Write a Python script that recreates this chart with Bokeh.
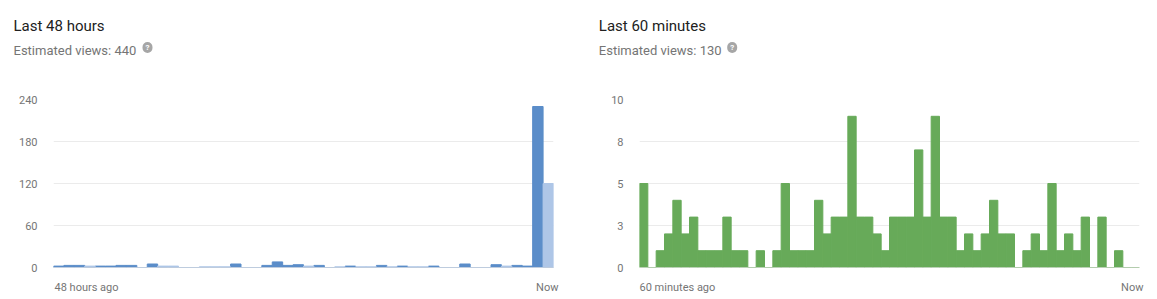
from bokeh.plotting import figure
from bokeh.layouts import row, column
from bokeh.models import Range1d, FixedTicker, Label, Span, ColumnDataSource
from bokeh.embed import file_html
from bokeh.resources import INLINE

# ---------------- data ----------------
hour_labels = ["48 hours ago", "Now"]
# views per hour over last 48 hours (oldest -> newest); two bar shades
hourly_views_dark = [2, 3, 3, 0, 2, 2, 3, 3, 0, 5, 0, 0, 0, 0, 0, 0, 0, 5, 0, 0, 3, 8, 3, 4,
                     0, 3, 0, 0, 2, 0, 0, 3, 0, 2, 0, 0, 2, 0, 0, 5, 0, 0, 4, 0, 3, 2, 230, 0]
hourly_views_light = [0, 0, 0, 2, 0, 0, 0, 0, 0, 0, 2, 2, 0, 0, 1, 1, 1, 0, 0, 0, 0, 0, 0, 0,
                      2, 0, 0, 1, 0, 1, 1, 0, 1, 0, 1, 1, 0, 0, 0, 0, 0, 0, 0, 2, 0, 0, 0, 120]
hour_ticks = [0, 60, 120, 180, 240]

minute_labels = ["60 minutes ago", "Now"]
minute_views = [5, 0, 1, 2, 4, 2, 3, 1, 1, 1, 3, 1, 1, 0, 1, 0, 1, 5, 1, 1,
                1, 4, 2, 3, 3, 9, 3, 3, 2, 1, 3, 3, 3, 7, 3, 9, 3, 3, 1, 2,
                1, 2, 4, 2, 2, 0, 1, 2, 1, 5, 1, 2, 1, 3, 0, 3, 0, 1, 0, 0]
minute_ticks = [0, 2.5, 5, 7.5, 10]
minute_tick_labels = ["0", "3", "5", "8", "10"]

titles = ["Last 48 hours", "Last 60 minutes"]
subtitles = ["Estimated views: 440", "Estimated views: 130"]

FONT = "Roboto"
GRAY = "#757575"
HEADER_H = 91
FOOTER_H = 24


def strip(width, height):
    s = figure(width=width, height=height, output_backend="svg", toolbar_location=None,
               x_range=Range1d(0, width), y_range=Range1d(0, height),
               x_axis_type=None, y_axis_type=None, tools="", frame_align=False,
               min_border_left=0, min_border_right=0, min_border_top=0, min_border_bottom=0)
    s.outline_line_color = None
    s.grid.visible = False
    return s


def header(width, title, subtitle, x0, icon_x):
    h = strip(width, HEADER_H)
    h.add_layout(Label(x=x0, y=HEADER_H - 25.5, text=title,
                       text_font=FONT, text_font_size="15px", text_color="#212121",
                       text_baseline="alphabetic", text_align="left"))
    h.add_layout(Label(x=x0, y=HEADER_H - 50, text=subtitle,
                       text_font=FONT, text_font_size="13px", text_color=GRAY,
                       text_baseline="alphabetic", text_align="left"))
    h.add_layout(Label(x=icon_x, y=HEADER_H - 47, text="?",
                       text_font=FONT, text_font_size="8px", text_font_style="bold",
                       text_color="white", text_baseline="middle", text_align="center",
                       background_fill_color="#a6a6a6", border_radius=6, padding=(3, 1)))
    return h


def footer(width, labels, left_x, right_x):
    f = strip(width, FOOTER_H)
    f.add_layout(Label(x=left_x, y=FOOTER_H - 12, text=labels[0],
                       text_font=FONT, text_font_size="11px", text_color=GRAY,
                       text_baseline="alphabetic", text_align="left"))
    f.add_layout(Label(x=right_x, y=FOOTER_H - 12, text=labels[1],
                       text_font=FONT, text_font_size="11px", text_color=GRAY,
                       text_baseline="alphabetic", text_align="right"))
    return f


def chart(width, left, right, n, ticks, tick_labels):
    p = figure(width=width, height=184, output_backend="svg", toolbar_location=None,
               x_range=Range1d(0, n), y_range=Range1d(0, ticks[-1]), x_axis_type=None,
               min_border_left=left, min_border_right=right, min_border_top=8,
               min_border_bottom=8, tools="", frame_align=False)
    p.outline_line_color = None
    p.xgrid.visible = False
    p.yaxis.ticker = FixedTicker(ticks=ticks)
    p.yaxis.major_label_overrides = {t: l for t, l in zip(ticks, tick_labels)}
    p.yaxis.axis_line_color = None
    p.yaxis.major_tick_line_color = None
    p.yaxis.minor_tick_line_color = None
    p.yaxis.major_label_standoff = 10
    p.yaxis.major_label_text_font = FONT
    p.yaxis.major_label_text_font_size = "11px"
    p.yaxis.major_label_text_color = GRAY
    p.ygrid.ticker = FixedTicker(ticks=ticks)
    p.ygrid.grid_line_color = "#ebebeb"
    p.ygrid.grid_line_width = 1
    p.add_layout(Span(location=0, dimension="width", line_color="#d9d9d9", line_width=1))
    return p


# ---------------- left chart ----------------
n1 = len(hourly_views_dark)
p1 = chart(578, 53, 25, n1, hour_ticks, [str(t) for t in hour_ticks])
src1 = ColumnDataSource(dict(x=[i + 0.5 for i in range(n1)],
                             dark=hourly_views_dark, light=hourly_views_light))
p1.vbar(x="x", top="dark", width=1, source=src1, fill_color="#5b8dc9",
        line_color="#5b8dc9", line_width=1)
p1.vbar(x="x", top="light", width=1, source=src1, fill_color="#aec6e7",
        line_color="#aec6e7", line_width=1)
left_panel = column(header(578, titles[0], subtitles[0], 13, 147),
                    p1,
                    footer(578, hour_labels, 54, 558), spacing=0)

# ---------------- right chart ----------------
n2 = len(minute_views)
p2 = chart(579, 61, 18, n2, minute_ticks, minute_tick_labels)
src2 = ColumnDataSource(dict(x=[i + 0.5 for i in range(n2)], v=minute_views))
p2.vbar(x="x", top="v", width=1, source=src2, fill_color="#67aa59",
        line_color="#67aa59", line_width=1)
right_panel = column(header(579, titles[1], subtitles[1], 20.3, 153.7),
                     p2,
                     footer(579, minute_labels, 61, 565), spacing=0)

layout = row(left_panel, right_panel, spacing=0)
open("out.html", "w").write(file_html(layout, INLINE))
